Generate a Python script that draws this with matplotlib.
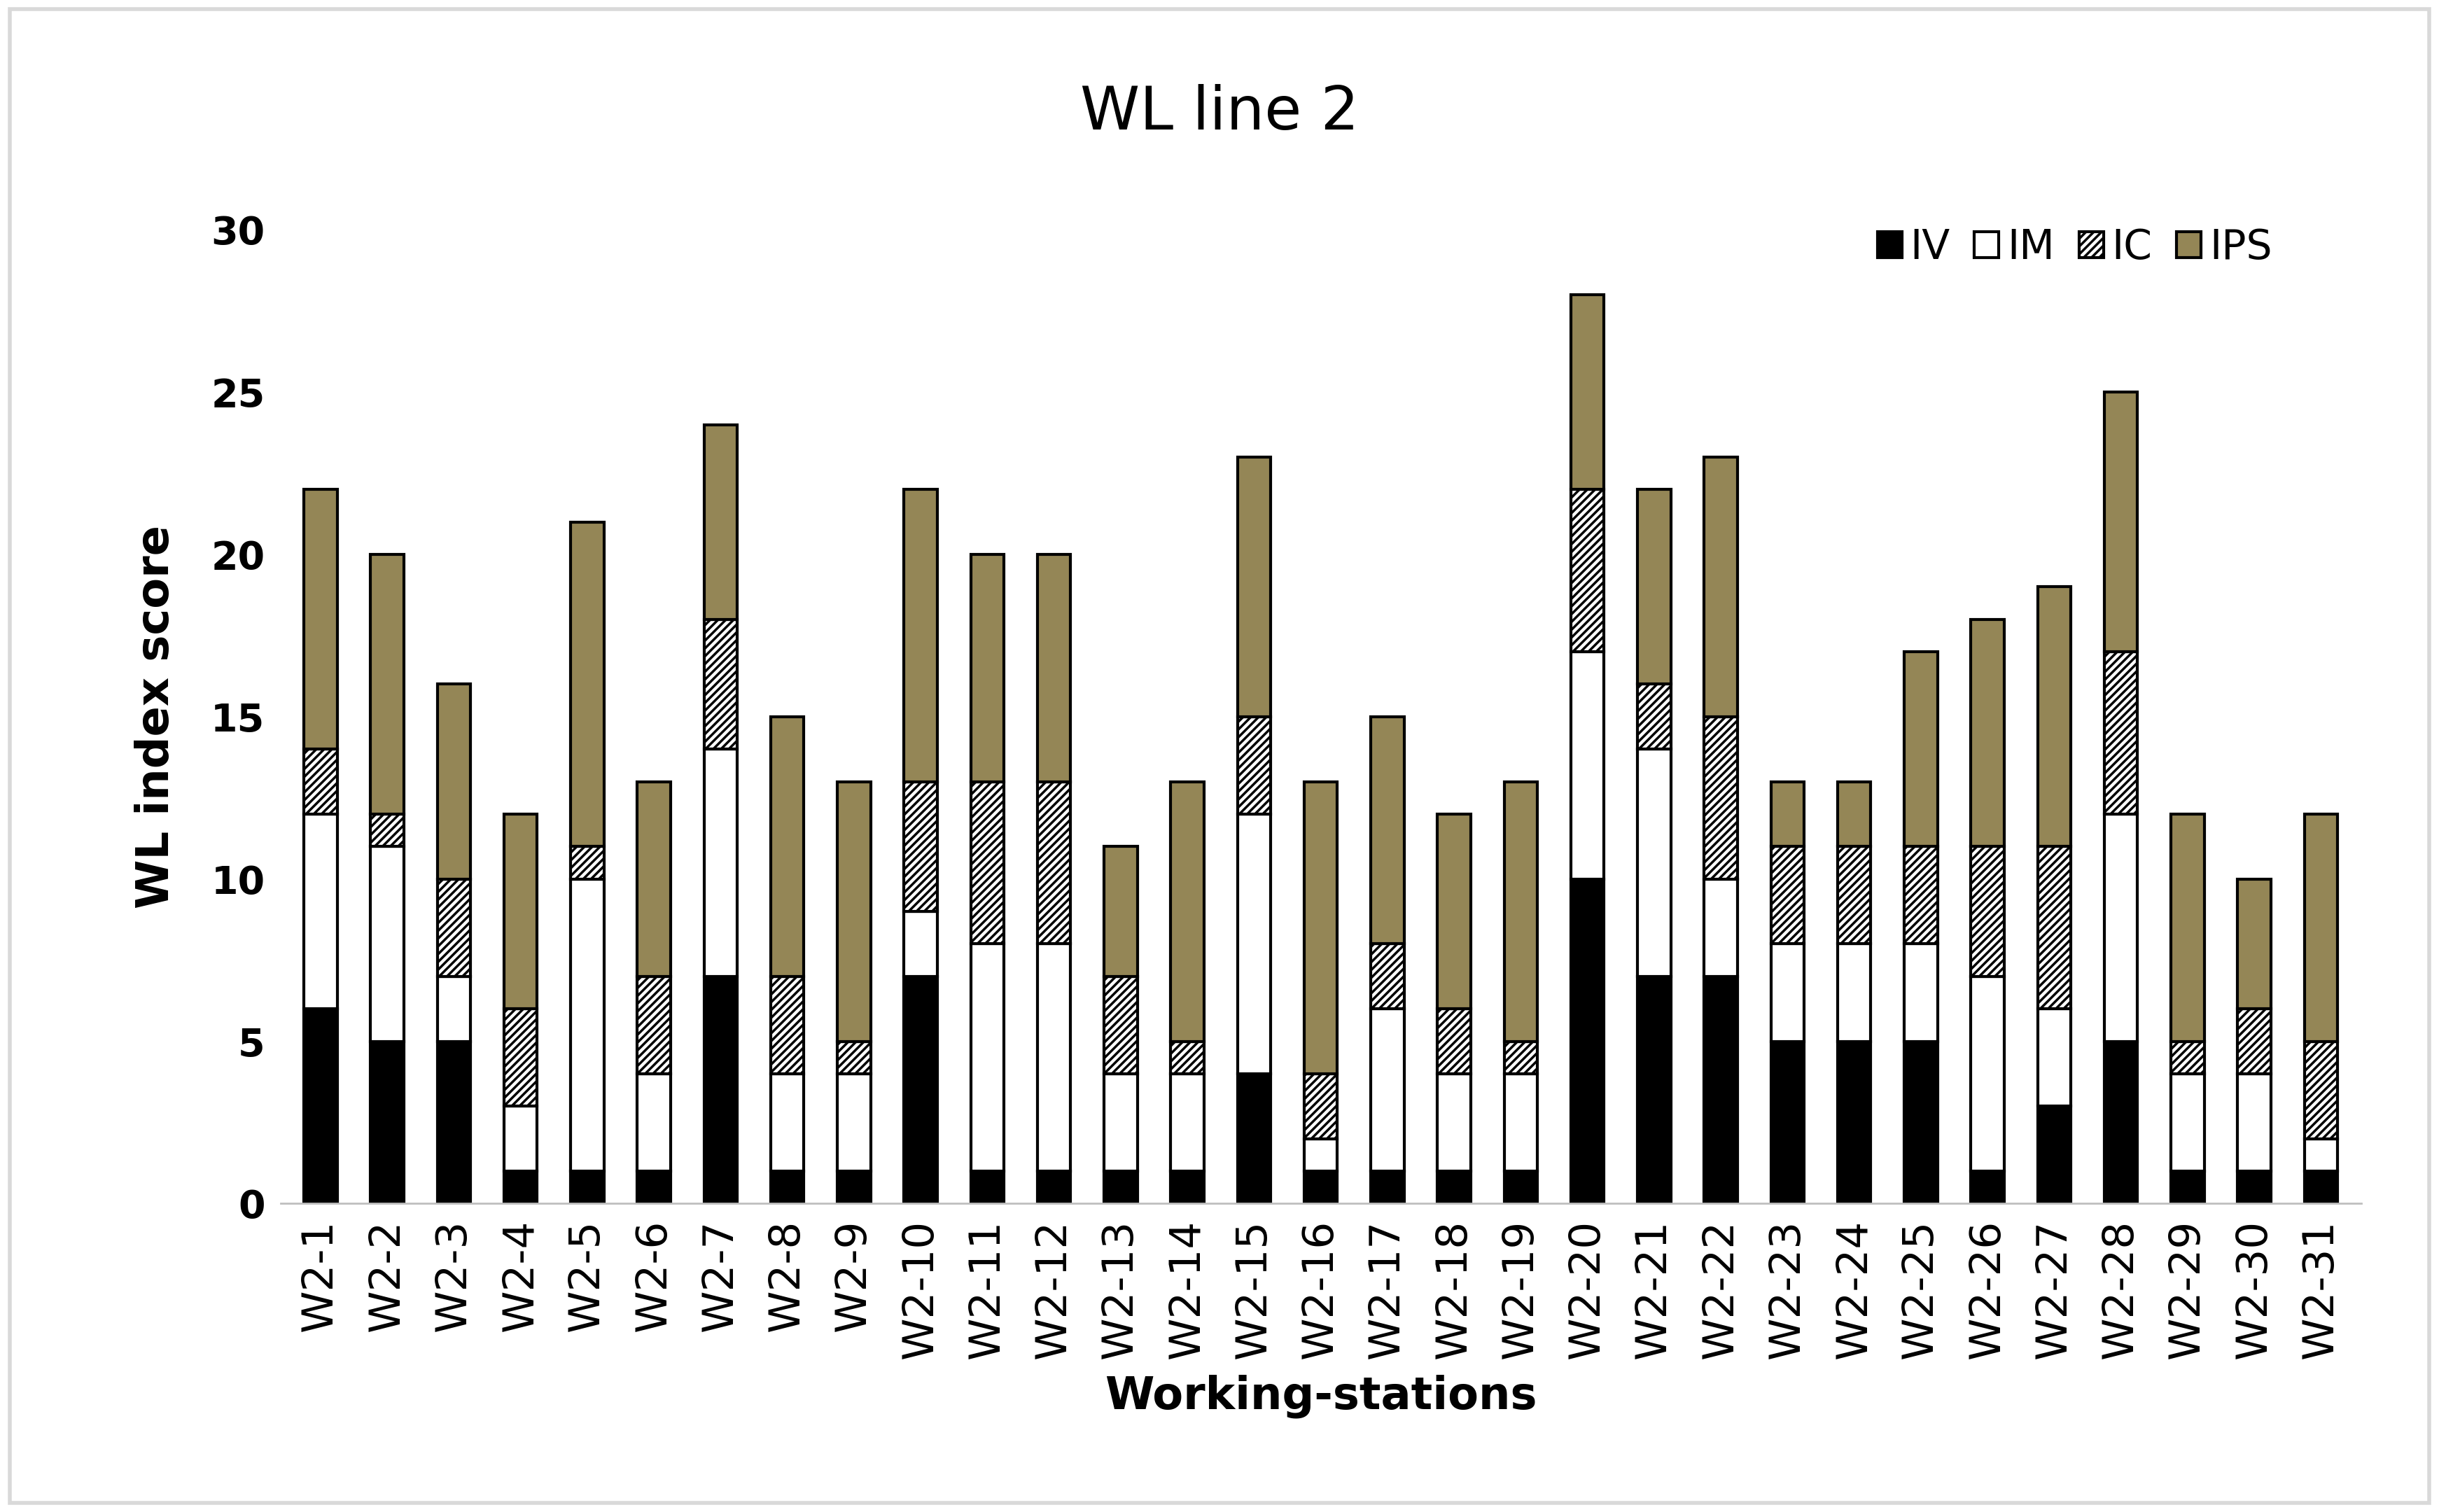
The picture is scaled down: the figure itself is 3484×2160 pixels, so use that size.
import numpy as np
import matplotlib.pyplot as plt
from matplotlib.patches import Rectangle

stations = ["W2-%d" % i for i in range(1, 32)]
iv  = [6, 5, 5, 1, 1, 1, 7, 1, 1, 7, 1, 1, 1, 1, 4, 1, 1, 1, 1, 10, 7, 7, 5, 5, 5, 1, 3, 5, 1, 1, 1]
im  = [6, 6, 2, 2, 9, 3, 7, 3, 3, 2, 7, 7, 3, 3, 8, 1, 5, 3, 3, 7, 7, 3, 3, 3, 3, 6, 3, 7, 3, 3, 1]
ic  = [2, 1, 3, 3, 1, 3, 4, 3, 1, 4, 5, 5, 3, 1, 3, 2, 2, 2, 1, 5, 2, 5, 3, 3, 3, 4, 5, 5, 1, 2, 3]
ips = [8, 8, 6, 6, 10, 6, 6, 8, 8, 9, 7, 7, 4, 8, 8, 9, 7, 6, 8, 6, 6, 8, 2, 2, 6, 7, 8, 8, 7, 4, 7]

plt.rcParams['hatch.linewidth'] = 2.5
fig = plt.figure(figsize=(34.84, 21.6), dpi=100)
ax = fig.add_axes([0.115, 0.204, 0.853, 0.644])

x = np.arange(len(stations))
w = 0.5
lw = 3
bottom = np.zeros(len(x))
ax.bar(x, iv, w, bottom=bottom, color='black', edgecolor='black', linewidth=lw, label='IV')
bottom += iv
ax.bar(x, im, w, bottom=bottom, color='white', edgecolor='black', linewidth=lw, label='IM')
bottom += im
ax.bar(x, ic, w, bottom=bottom, color='white', edgecolor='black', linewidth=lw, hatch='///', label='IC')
bottom += ic
ax.bar(x, ips, w, bottom=bottom, color='#948656', edgecolor='black', linewidth=lw, label='IPS')

ax.set_xlim(-0.6, len(x) - 0.4)
ax.set_ylim(0, 30)
ax.set_yticks(range(0, 31, 5))
ax.set_xticks(x)
ax.set_xticklabels(stations, rotation=90, fontsize=44)
for t in ax.get_yticklabels():
    t.set_fontsize(40)
    t.set_fontweight('bold')
ax.tick_params(length=0, pad=16)
for s in ['top', 'right', 'left']:
    ax.spines[s].set_visible(False)
ax.spines['bottom'].set_color('#bfbfbf')
ax.spines['bottom'].set_linewidth(2)

ax.set_xlabel('Working-stations', fontsize=46, fontweight='bold', labelpad=16)
ax.set_ylabel('WL index score', fontsize=46, fontweight='bold', labelpad=34)
fig.text(0.5, 0.925, 'WL line 2', fontsize=62, ha='center', va='center')

ax.legend(loc='upper right', bbox_to_anchor=(0.975, 1.04), ncol=4, frameon=False,
          fontsize=42, handlelength=0.6, handleheight=0.6, columnspacing=0.6, handletextpad=0.2)

fig.add_artist(Rectangle((0.004, 0.006), 0.992, 0.988, transform=fig.transFigure,
                         fill=False, edgecolor='#d9d9d9', linewidth=4))
fig.savefig('out.png', dpi=100)
